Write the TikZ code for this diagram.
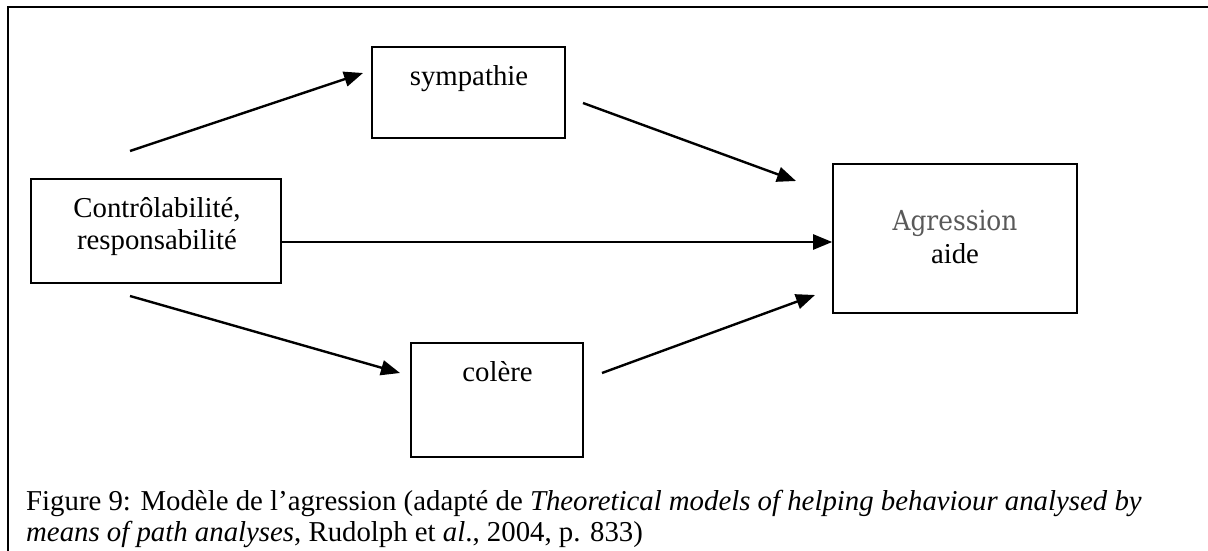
\documentclass[tikz,border=0pt]{standalone}
\usepackage{fontspec}
\setmainfont{Liberation Serif}
\newfontfamily\agrfont[FakeStretch=0.9]{DejaVu Serif}
\usetikzlibrary{arrows.meta}
\tikzset{
  boxnode/.style={draw, line width=1.6pt, inner sep=0pt},
  txt/.style={anchor=base, inner sep=0pt, font=\fontsize{28.8}{32}\selectfont},
  link/.style={->, line width=2.4pt},
}
\begin{document}
\begin{tikzpicture}[x=1pt, y=-1pt, >={Triangle[length=19pt,width=15pt]}]
    \useasboundingbox (0,0) rectangle (1208,551);
    \draw [line width=2.8pt] (8,551)--(8,7)--(1208,7);
    % boxes
    \node [boxnode, minimum width=250pt, minimum height=104pt] (ctrl) at (156,231) {};
    \node [boxnode, minimum width=193pt, minimum height=91pt] (sym) at (468.5,92.5) {};
    \node [boxnode, minimum width=172pt, minimum height=114pt] (col) at (497,400) {};
    \node [boxnode, minimum width=244pt, minimum height=149pt] (agr) at (955,238.5) {};
    % texts
    \node [txt] (ctrltxta) at (157,217) {Contrôlabilité,};
    \node [txt] (ctrltxtb) at (157,249) {responsabilité};
    \node [txt] (symtxt) at (469,85) {sympathie};
    \node [txt] (coltxt) at (497.5,381) {colère};
    \node [txt, font=\fontsize{27.6}{32}\agrfont, text=black!65] (agrtxta) at (955,230) {Agression};
    \node [txt] (agrtxtb) at (955,263) {aide};
    \node [txt, anchor=base west] (capa) at (26,510) {Figure 9: Modèle de l’agression (adapté de \textit{Theoretical models of helping behaviour analysed by}};
    \node [txt, anchor=base west] (capb) at (26,541) {\textit{means of path analyses}, Rudolph et \textit{al}., 2004, p. 833)};
    % arrow ends
    \coordinate (ua) at (130,151);  \coordinate (ub) at (363,73);
    \coordinate (sa) at (583,103);  \coordinate (sb) at (796,181);
    \coordinate (ha) at (ctrl.east|-0,242); \coordinate (hb) at (agr.west|-0,242);
    \coordinate (la) at (130,296);  \coordinate (lb) at (400,373);
    \coordinate (ca) at (602,373);  \coordinate (cb) at (815,295);
    \draw [link] (ua)--(ub);
    \draw [link] (sa)--(sb);
    \draw [link] (ha)--(hb);
    \draw [link] (la)--(lb);
    \draw [link] (ca)--(cb);
\end{tikzpicture}
\end{document}
